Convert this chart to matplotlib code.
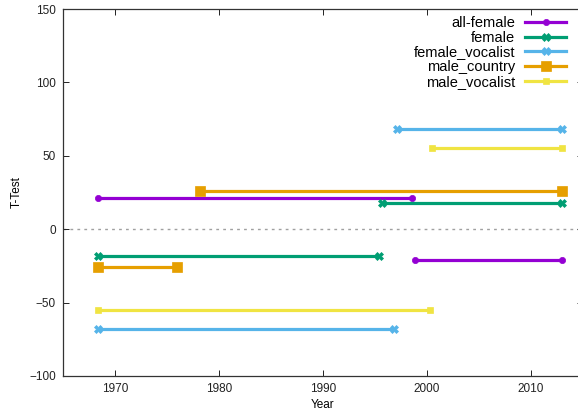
import numpy as np
import matplotlib.pyplot as plt

plt.rcParams['font.family'] = ['Liberation Sans', 'DejaVu Sans']

labels = ['all-female', 'female', 'female_vocalist', 'male_country', 'male_vocalist']
colors = ['#9400D3', '#009E73', '#56B4E9', '#E69F00', '#F0E442']
markers = ['o', 'X', 'X', 's', 's']
msizes = [4.5, 5.5, 5.5, 7.5, 4.5]

# each series has two flat segments: (start year, end year, t-value)
seg_start = [[1968.4, 1998.8], [1968.4, 1995.7], [1968.4, 1997.1], [1968.4, 1978.2], [1968.4, 2000.5]]
seg_end = [[1998.6, 2013.0], [1995.4, 2013.0], [1996.8, 2013.0], [1976.0, 2013.0], [2000.3, 2013.0]]
seg_t = [[21, -21], [-18, 18], [-68, 68], [-26, 26], [-55, 55]]

xticks = [1970, 1980, 1990, 2000, 2010]
yticks = [-100, -50, 0, 50, 100, 150]

fig = plt.figure(figsize=(5.78, 4.12), dpi=100)
ax = fig.add_axes([63/578, 36/412, 520/578, 367/412])

ax.axhline(0, color='#a0a0a0', lw=1, ls=(0, (2, 3)), zorder=1)

for i in range(len(labels)):
    xs = [seg_start[i][0], seg_end[i][0], np.nan, seg_start[i][1], seg_end[i][1]]
    ys = [seg_t[i][0], seg_t[i][0], np.nan, seg_t[i][1], seg_t[i][1]]
    ax.plot(xs, ys, color=colors[i], lw=2.3, marker=markers[i], ms=msizes[i],
            mec=colors[i], mew=0.5, label=labels[i], zorder=3)

ax.set_xlim(1965, 2015)
ax.set_ylim(-100, 150)
ax.set_xticks(xticks)
ax.set_yticks(yticks)
ax.tick_params(direction='in', top=True, right=True, length=4, width=0.7,
               labelsize=8.5, colors='#222222', pad=5)
for s in ax.spines.values():
    s.set_linewidth(0.9)
    s.set_color('#333333')

ax.set_xlabel('Year', fontsize=8.5, labelpad=3)
ax.set_ylabel('T-Test', fontsize=8.5, labelpad=5)

leg = ax.legend(loc='upper right', bbox_to_anchor=(566/578, 1 - 16/412),
                bbox_transform=fig.transFigure, frameon=False, markerfirst=False,
                fontsize=10.5, handlelength=2.8, labelspacing=0.05, borderpad=0,
                borderaxespad=0, handletextpad=0.7)
for t in leg.get_texts():
    t.set_ha('right')
leg._legend_box.align = 'right'

fig.savefig('out.png', dpi=100)
